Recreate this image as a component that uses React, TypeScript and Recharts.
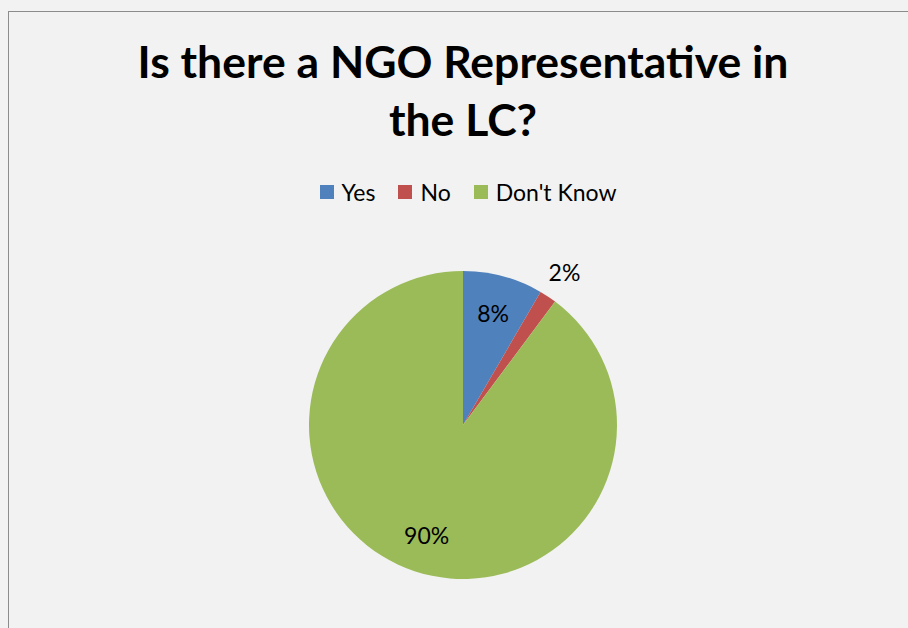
import { PieChart, Pie, Cell } from "recharts";

const categories = ["Yes", "No", "Don't Know"];
const shares = [8.4, 1.8, 89.8];
const colors = ["#4f81bd", "#c0504d", "#9bbb59"];

const data = categories.map((name, i) => ({ name, value: shares[i] }));

const RAD = Math.PI / 180;
const FONT = "Lato, 'Noto Sans', sans-serif";

function renderLabel(props: any) {
  const { cx, cy, midAngle, outerRadius, percent } = props;
  const small = percent < 0.05;
  const r = small ? outerRadius + 30 : outerRadius * 0.75;
  const x = cx + r * Math.cos(-midAngle * RAD);
  const y = cy + r * Math.sin(-midAngle * RAD);
  return (
    <text x={x} y={y} fill="#000" fontSize={23} fontFamily={FONT} textAnchor="middle" dominantBaseline="central">
      {Math.round(percent * 100)}%
    </text>
  );
}

export default function App() {
  return (
    <div style={{ position: "absolute", left: 0, top: 0, width: 908, height: 628, background: "#f2f2f2", overflow: "hidden" }}>
      <div style={{ position: "absolute", left: 8, top: 11, width: 940, height: 660, border: "1.5px solid #8c8c8c" }} />
      <div
        style={{
          position: "absolute",
          left: 0,
          top: 32,
          width: 926,
          textAlign: "center",
          fontFamily: FONT,
          fontWeight: 700,
          fontSize: 44.5,
          lineHeight: "58px",
          color: "#000",
        }}
      >
        Is there a NGO Representative in
        <br />
        the LC?
      </div>
      <div
        style={{
          position: "absolute",
          left: 0,
          top: 177,
          width: 936,
          display: "flex",
          justifyContent: "center",
          fontFamily: FONT,
          fontSize: 23,
          lineHeight: "30px",
          color: "#000",
        }}
      >
        {data.map((d, i) => (
          <div key={d.name} style={{ display: "flex", alignItems: "center", marginRight: i < data.length - 1 ? 23 : 0 }}>
            <span style={{ display: "inline-block", width: 14, height: 14, background: colors[i], marginRight: 8 }} />
            <span>{d.name}</span>
          </div>
        ))}
      </div>
      <PieChart
        width={926}
        height={628}
        margin={{ top: 0, right: 0, bottom: 0, left: 0 }}
        style={{ position: "absolute", left: 0, top: 0 }}
      >
        <Pie
          data={data}
          dataKey="value"
          nameKey="name"
          cx={463}
          cy={425}
          outerRadius={154}
          startAngle={90}
          endAngle={-270}
          stroke="none"
          label={renderLabel}
          labelLine={false}
          isAnimationActive={false}
        >
          {data.map((d, i) => (
            <Cell key={d.name} fill={colors[i]} />
          ))}
        </Pie>
      </PieChart>
    </div>
  );
}
